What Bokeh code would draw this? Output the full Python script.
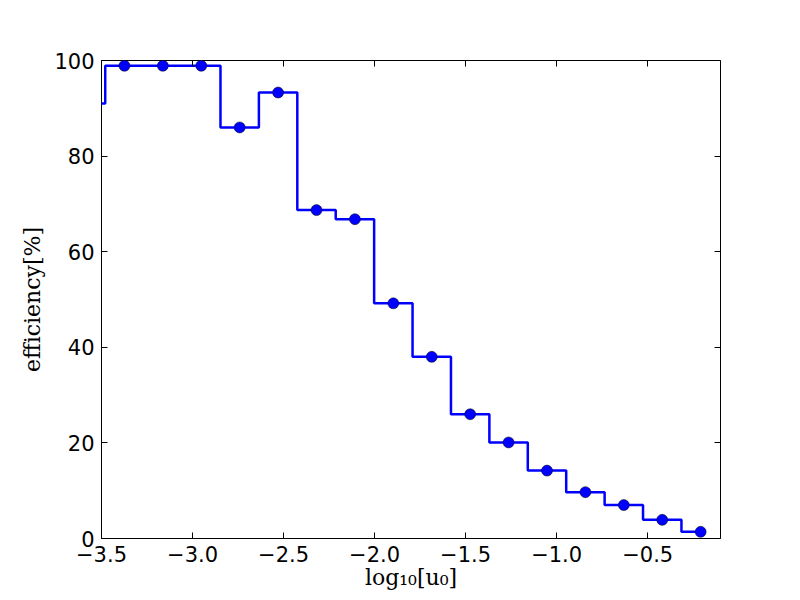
from bokeh.plotting import figure
from bokeh.embed import file_html
from bokeh.resources import INLINE
from bokeh.models import LinearAxis, FixedTicker, CustomJSTickFormatter, Range1d

# data
log_u0 = [-3.585, -3.374, -3.163, -2.952, -2.741, -2.530, -2.319, -2.108, -1.897,
          -1.686, -1.475, -1.264, -1.053, -0.842, -0.631, -0.420, -0.209]
efficiency = [91.0, 98.9, 98.9, 98.9, 86.0, 93.3, 68.7, 66.8, 49.2,
              38.0, 26.0, 20.1, 14.2, 9.7, 7.0, 3.9, 1.4]
x_ticks = [-3.5, -3.0, -2.5, -2.0, -1.5, -1.0, -0.5]
y_ticks = [0, 20, 40, 60, 80, 100]

p = figure(width=792, height=592, output_backend="svg", toolbar_location=None,
           x_range=Range1d(-3.5, -0.1), y_range=Range1d(0, 100),
           min_border_left=101, min_border_right=72, min_border_top=60, min_border_bottom=52)
p.grid.visible = False
p.outline_line_color = "black"
p.outline_line_width = 1
p.background_fill_color = "white"
p.border_fill_color = "white"

p.step(log_u0, efficiency, mode="center", line_color="#0000ff", line_width=2.5)
p.scatter(log_u0, efficiency, size=11, fill_color="#0000ff", line_color="black", line_width=0.5)

fmt_x = CustomJSTickFormatter(code="return tick.toFixed(1).replace('-', '\u2212');")
fmt_y = CustomJSTickFormatter(code="return tick.toFixed(0);")

def style(ax, ticks, show_labels):
    ax.ticker = FixedTicker(ticks=ticks)
    ax.major_tick_in = 6
    ax.major_tick_out = 0
    ax.minor_tick_in = 0
    ax.minor_tick_out = 0
    ax.axis_line_color = None
    ax.major_tick_line_color = "black"
    ax.major_label_text_font = "DejaVu Sans"
    ax.major_label_text_font_size = "21px"
    ax.major_label_text_color = "black"
    ax.major_label_standoff = 7
    if not show_labels:
        ax.major_label_text_font_size = "0px"
        ax.major_label_text_alpha = 0

xa = p.xaxis[0]
ya = p.yaxis[0]
style(xa, x_ticks, True)
style(ya, y_ticks, True)
xa.formatter = fmt_x
ya.formatter = fmt_y
xa.axis_label = "log\u2081\u2080[u\u2080]"
ya.axis_label = "efficiency[%]"
for ax in (xa, ya):
    ax.axis_label_text_font = "DejaVu Serif"
    ax.axis_label_text_font_style = "normal"
    ax.axis_label_text_font_size = "22px"
    ax.axis_label_text_color = "black"
xa.axis_label_standoff = 0
ya.axis_label_standoff = 6

top = LinearAxis()
right = LinearAxis()
style(top, x_ticks, False)
style(right, y_ticks, False)
p.add_layout(top, "above")
p.add_layout(right, "right")

open("out.html", "w").write(file_html(p, INLINE))
